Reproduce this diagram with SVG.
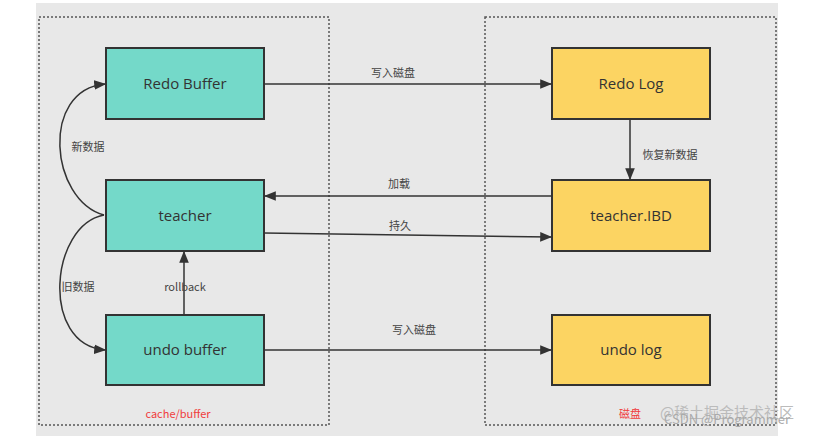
<svg xmlns="http://www.w3.org/2000/svg" width="819" height="440" viewBox="0 0 819 440">
<style>
.g{fill:#74d9c9;stroke:#333;stroke-width:2}
.y{fill:#fcd462;stroke:#333;stroke-width:2}
.t{font-family:"Open Sans","Liberation Sans",sans-serif;font-size:15px;fill:#333;text-anchor:middle}
.l{font-family:"Noto Sans CJK SC","Liberation Sans",sans-serif;font-size:11px;fill:#444;text-anchor:middle}
.c{fill:none;stroke:#333;stroke-width:1.5}
.box{fill:none;stroke:#555;stroke-width:1.5;stroke-dasharray:2 2}
</style>
<defs><marker id="a" viewBox="0 0 10 10" refX="9" refY="5" markerWidth="8" markerHeight="8" orient="auto"><path d="M0,1 L10,5 L0,9 z" fill="#333"/></marker></defs>
<rect x="0" y="0" width="819" height="440" fill="#fff"/>
<rect x="36" y="3" width="742" height="433" fill="#e8e8e8"/>
<rect class="box" x="39" y="17" width="290" height="408"/>
<rect class="box" x="485" y="17" width="291" height="408"/>
<g id="redobuffer"><rect class="g" x="106" y="48" width="158" height="71"/><text class="t" x="185" y="89">Redo Buffer</text></g>
<g id="teacher"><rect class="g" x="106" y="180" width="158" height="71"/><text class="t" x="185" y="221">teacher</text></g>
<g id="undobuffer"><rect class="g" x="106" y="315" width="158" height="70"/><text class="t" x="185" y="355">undo buffer</text></g>
<g id="redolog"><rect class="y" x="552" y="48" width="158" height="71"/><text class="t" x="631" y="89">Redo Log</text></g>
<g id="ibd"><rect class="y" x="552" y="180" width="158" height="71"/><text class="t" x="631" y="221">teacher.IBD</text></g>
<g id="undolog"><rect class="y" x="552" y="315" width="158" height="70"/><text class="t" x="631" y="355">undo log</text></g>
<g id="connectors">
<path class="c" d="M264,84 L551,84" marker-end="url(#a)"/>
<path class="c" d="M630,119 L630,179" marker-end="url(#a)"/>
<path class="c" d="M552,196 L265,196" marker-end="url(#a)"/>
<path class="c" d="M264,233 L551,237" marker-end="url(#a)"/>
<path class="c" d="M184,315 L184,252" marker-end="url(#a)"/>
<path class="c" d="M264,350 L551,350" marker-end="url(#a)"/>
<path class="c" d="M104,215 C50,200 40,90 105,84" marker-end="url(#a)"/>
<path class="c" d="M104,215 C50,225 40,345 105,350" marker-end="url(#a)"/>
</g>
<g id="labels">
<text class="l" x="393" y="77">写入磁盘</text>
<text class="l" x="670" y="159">恢复新数据</text>
<text class="l" x="399" y="188">加载</text>
<text class="l" x="400" y="230">持久</text>
<text class="l" x="185" y="291">rollback</text>
<text class="l" x="414" y="334">写入磁盘</text>
<text class="l" x="88" y="151">新数据</text>
<text class="l" x="78" y="291">旧数据</text>
<text class="l" x="178" y="418" style="fill:#f03c3c">cache/buffer</text>
<text class="l" x="630" y="418" style="fill:#f03c3c">磁盘</text>
<text class="l" x="727" y="418" style="fill:#bbb;font-size:15px">@稀土掘金技术社区</text>
<text class="l" x="727" y="424" style="fill:#aaa;font-size:13px">CSDN @Programmer</text>
</g>
</svg>
